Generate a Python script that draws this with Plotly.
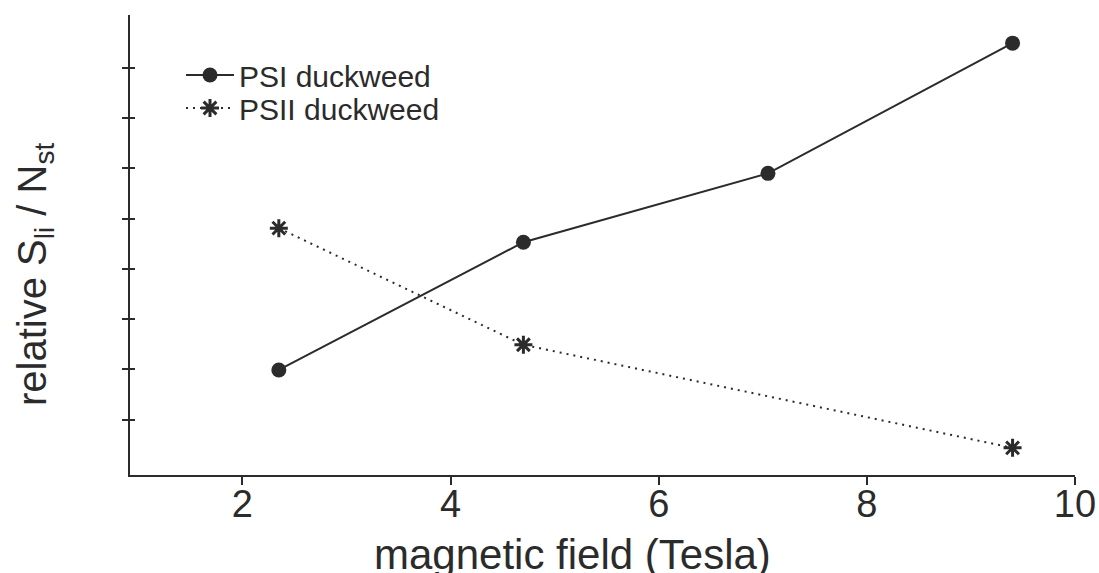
import plotly.graph_objects as go

# data
field_psi = [2.35, 4.7, 7.05, 9.4]
psi_values = [1.99, 4.53, 5.90, 8.49]
field_psii = [2.35, 4.7, 9.4]
psii_values = [4.81, 2.49, 0.44]
x_ticks = [2, 4, 6, 8, 10]
y_ticks = [1, 2, 3, 4, 5, 6, 7, 8]

ink = "#2b2b2b"
font_family = "Liberation Sans, Arial, Helvetica, sans-serif"

fig = go.Figure()
fig.add_trace(go.Scatter(
    x=field_psi, y=psi_values, mode="lines+markers", name="PSI duckweed",
    line=dict(color=ink, width=2),
    marker=dict(symbol="circle", size=15, color=ink),
    legend="legend",
))
fig.add_trace(go.Scatter(
    x=field_psii, y=psii_values, mode="lines+markers", name="PSII duckweed",
    line=dict(color=ink, width=2, dash="2px,5px"),
    marker=dict(symbol="asterisk-open", size=15, line=dict(color=ink, width=3)),
    legend="legend2",
))
# invisible trace on overlay axis to carry inner y ticks
fig.add_trace(go.Scatter(x=[None], y=[None], yaxis="y2", showlegend=False, hoverinfo="skip"))

xr = [0.92, 10.0]
yr = [-0.1, 9.05]
legend_common = dict(xanchor="left", yanchor="middle",
                     font=dict(size=30, color=ink), bgcolor="rgba(0,0,0,0)",
                     itemwidth=48)
fig.update_layout(
    width=1099, height=573,
    margin=dict(l=130, r=24, t=15, b=98),
    paper_bgcolor="white", plot_bgcolor="white",
    font=dict(family=font_family, color=ink),
    xaxis=dict(range=xr, tickvals=x_ticks, ticktext=[str(v) for v in x_ticks],
               showgrid=False, zeroline=False, showline=True, linecolor=ink, linewidth=2,
               ticks="outside", ticklen=8, tickwidth=1.5, tickcolor=ink,
               ticklabelstandoff=-14, automargin=False,
               tickfont=dict(size=38, color=ink)),
    yaxis=dict(range=yr, tickvals=y_ticks, showticklabels=False, automargin=False,
               showgrid=False, zeroline=False, showline=True, linecolor=ink, linewidth=2,
               ticks="outside", ticklen=6, tickwidth=1.5, tickcolor=ink),
    yaxis2=dict(range=yr, tickvals=y_ticks, showticklabels=False, overlaying="y",
                showgrid=False, zeroline=False, showline=False,
                ticks="inside", ticklen=5, tickwidth=1.5, tickcolor=ink),
    legend=dict(x=(181 - 130) / 945, y=(475 - 75) / 460, **legend_common),
    legend2=dict(x=(181 - 130) / 945, y=(475 - 108) / 460, **legend_common),
    showlegend=True,
    annotations=[
        dict(text="magnetic field (Tesla)", xref="paper", yref="paper",
             x=(572.5 - 130) / 945, y=(475 - 554) / 460, xanchor="center", yanchor="middle",
             showarrow=False, font=dict(size=42, color=ink)),
        dict(text="relative S<sub>li</sub> / N<sub>st</sub>", xref="paper", yref="paper",
             x=(35 - 130) / 945, y=(475 - 275) / 460, xanchor="center", yanchor="middle",
             textangle=-90, showarrow=False, font=dict(size=40, color=ink)),
    ],
)

fig.write_html("out.html")
